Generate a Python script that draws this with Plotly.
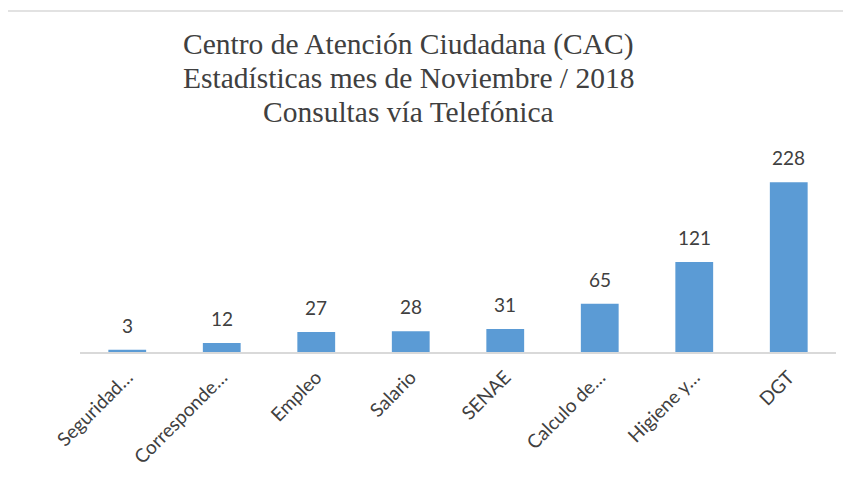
import plotly.graph_objects as go

categories = ["Seguridad…", "Corresponde…", "Empleo", "Salario", "SENAE", "Calculo de…", "Higiene y…", "DGT"]
values = [3, 12, 27, 28, 31, 65, 121, 228]
title_lines = ["Centro de Atención Ciudadana (CAC)", "Estadísticas mes de Noviembre / 2018", "Consultas vía Telefónica"]

OFF = 8  # page body margin in the browser
W, H = 851, 479
# target screen-pixel plot area: x 80..836, y 166..352
ml = 80 - OFF
mt = 166 - OFF
pw = 836 - 80
ph = 352 - 166
mr = W - ml - pw
mb = H - mt - ph

fig = go.Figure(go.Bar(
    x=categories, y=values,
    marker=dict(color="#5b9bd5", line=dict(width=0)),
    hoverinfo="x+y",
))

def xp(x):  # screen px -> paper
    return (x - OFF - ml) / pw

def yp(y):
    return (mt + ph - (y - OFF)) / ph

annotations = []
for c, v in zip(categories, values):
    annotations.append(dict(
        x=c, y=v, xref="x", yref="y", text=str(v), showarrow=False,
        yanchor="bottom", yshift=11,
        font=dict(family="Lato, Carlito, sans-serif", size=19, color="#404040"),
    ))
title_y = [45, 78, 112]
for t, y in zip(title_lines, title_y):
    annotations.append(dict(
        x=xp(408), y=yp(y), xref="paper", yref="paper", text=t, showarrow=False,
        xanchor="center", yanchor="middle",
        font=dict(family="Liberation Serif, Times New Roman, serif", size=29.5, color="#404040"),
    ))

fig.update_layout(
    width=W, height=H,
    margin=dict(l=ml, r=mr, t=mt, b=mb, autoexpand=False),
    plot_bgcolor="white", paper_bgcolor="white",
    bargap=0.6,
    showlegend=False,
    annotations=annotations,
    xaxis=dict(
        tickangle=-45, showgrid=False, showline=True, linecolor="#d9d9d9", linewidth=1.5,
        ticks="", automargin=False, ticklabelstandoff=5,
        tickfont=dict(family="Lato, Carlito, sans-serif", size=19, color="#404040"),
        zeroline=False,
    ),
    yaxis=dict(range=[0, 250], visible=False, showgrid=False, zeroline=False, automargin=False),
    shapes=[
        dict(type="line", xref="paper", yref="paper", x0=xp(6), x1=xp(6),
             y0=yp(490), y1=yp(11), line=dict(color="#d9d9d9", width=1.5)),
        dict(type="line", xref="paper", yref="paper", x0=xp(6), x1=xp(870),
             y0=yp(11), y1=yp(11), line=dict(color="#d9d9d9", width=1.5)),
    ],
)

fig.write_html("out.html")
